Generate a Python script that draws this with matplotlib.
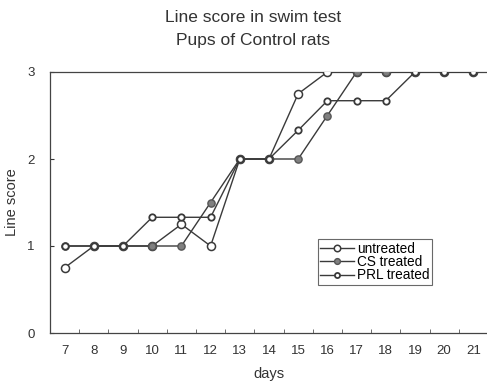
import matplotlib
matplotlib.use("Agg")
import matplotlib.pyplot as plt
import numpy as np

plt.rcParams['font.family'] = ['Liberation Sans', 'DejaVu Sans']

days = [7, 8, 9, 10, 11, 12, 13, 14, 15, 16, 17, 18, 19, 20, 21]
untreated = [0.75, 1, 1, 1, 1.25, 1, 2, 2, 2.75, 3, 3, 3, 3, 3, 3]
cs_treated = [1, 1, 1, 1, 1, 1.5, 2, 2, 2, 2.5, 3, 3, 3, 3, 3]
prl_treated = [1, 1, 1, 1.33, 1.33, 1.33, 2, 2, 2.33, 2.67, 2.67, 2.67, 3, 3, 3]
y_ticks = [0, 1, 2, 3]

fig = plt.figure(figsize=(4.87, 3.89), dpi=100)
ax = fig.add_axes([50/487, 1 - 333/389, 1 - 50/487 + 0.002, (333 - 72)/389])

lc = '#3a3a3a'
ax.plot(days, untreated, '-o', color=lc, lw=1.0, ms=5.8, mfc='white', mec=lc, mew=1.1,
        label='untreated', zorder=3)
ax.plot(days, cs_treated, '-o', color=lc, lw=1.0, ms=5.2, mfc='#808080', mec='#555555', mew=1.0,
        label='CS treated', zorder=4)
ax.plot(days, prl_treated, '-o', color=lc, lw=1.0, ms=4.6, mfc='white', mec=lc, mew=1.3,
        label='PRL treated', zorder=5)

ax.set_xlim(6.5, 21.5)
ax.set_ylim(0, 3)
ax.set_xticks(days)
ax.set_xticks(np.arange(7.5, 21.5, 1), minor=True)
ax.tick_params(axis='x', which='major', length=0, labelsize=9.5, pad=9, colors='#333333')
ax.tick_params(axis='x', which='minor', length=3, direction='in', color='#555555')
ax.set_yticks(y_ticks)
ax.tick_params(axis='y', length=3, direction='in', labelsize=9.5, pad=11, colors='#333333')
for s in ['left', 'top', 'bottom']:
    ax.spines[s].set_color('#444444')
    ax.spines[s].set_linewidth(0.9)
ax.spines['right'].set_visible(False)

ax.set_xlabel('days', fontsize=10.5, color='#333333', labelpad=7)
ax.set_ylabel('Line score', fontsize=10.5, color='#333333', labelpad=6)

fig.text(253/487, 1 - 17/389, 'Line score in swim test', ha='center', va='center',
         fontsize=12.5, color='#333333')
fig.text(253/487, 1 - 41/389, 'Pups of Control rats', ha='center', va='center',
         fontsize=12.5, color='#333333')

leg = ax.legend(loc='upper left', bbox_to_anchor=((317 - 50)/437, (333 - 239)/261),
                fontsize=9.8, frameon=True, fancybox=False, edgecolor='#444444',
                handlelength=2.5, handletextpad=0.2, borderpad=0.2, labelspacing=-0.05,
                borderaxespad=0, markerscale=0.8)
leg.get_frame().set_linewidth(0.8)

fig.savefig('out.png', dpi=100)
